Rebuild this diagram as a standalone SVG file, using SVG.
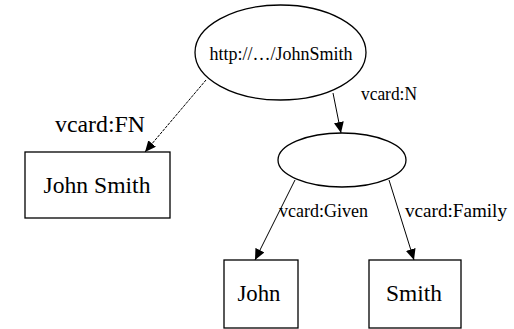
<svg xmlns="http://www.w3.org/2000/svg" width="514" height="329" viewBox="0 0 514 329">
<style>
.shape{fill:#fff;stroke:#000;stroke-width:1.3}
.edge{fill:none;stroke:#000;stroke-width:1}
text{font-family:Liberation Serif, DejaVu Serif, Tinos, Times New Roman, serif}
.node{font-size:23px;text-anchor:middle}
.lbl{font-size:18px}
</style>
<defs>
<marker id="arr" markerUnits="userSpaceOnUse" markerWidth="12" markerHeight="10" refX="11" refY="5" orient="auto">
<path d="M0,0 L11,5 L0,10 Z" fill="#000"/>
</marker>
</defs>
<rect width="514" height="329" fill="#fff"/>
<g id="connectors" fill="#000">
<line class="edge" x1="206" y1="80" x2="145" y2="152" stroke-dasharray="3 1" marker-end="url(#arr)"/>
<line class="edge" x1="333" y1="93" x2="341" y2="133" marker-end="url(#arr)"/>
<line class="edge" x1="295" y1="180" x2="255" y2="260" marker-end="url(#arr)"/>
<line class="edge" x1="389" y1="180" x2="414" y2="260" marker-end="url(#arr)"/>
<text x="55" y="132" font-size="23" textLength="90" lengthAdjust="spacingAndGlyphs">vcard:FN</text>
<text class="lbl" x="361" y="100" textLength="56" lengthAdjust="spacingAndGlyphs">vcard:N</text>
<text class="lbl" x="279" y="217" textLength="89" lengthAdjust="spacingAndGlyphs">vcard:Given</text>
<text class="lbl" x="405" y="217" textLength="102" lengthAdjust="spacingAndGlyphs">vcard:Family</text>
</g>
<g id="subject">
<ellipse class="shape" cx="280.5" cy="52.5" rx="85.5" ry="47.5"/>
<text x="281" y="60" font-size="18" text-anchor="middle" textLength="143" lengthAdjust="spacingAndGlyphs">http://…/JohnSmith</text>
</g>
<g id="fullname">
<rect class="shape" x="25" y="152" width="145" height="66"/>
<text class="node" x="97" y="193" textLength="107" lengthAdjust="spacingAndGlyphs">John Smith</text>
</g>
<g id="blank">
<ellipse class="shape" cx="342" cy="160" rx="64" ry="27"/>
</g>
<g id="given">
<rect class="shape" x="224" y="260" width="74" height="68"/>
<text class="node" x="259" y="301" textLength="43" lengthAdjust="spacingAndGlyphs">John</text>
</g>
<g id="family">
<rect class="shape" x="369" y="260" width="92" height="68"/>
<text class="node" x="414" y="301" textLength="56" lengthAdjust="spacingAndGlyphs">Smith</text>
</g>
</svg>
